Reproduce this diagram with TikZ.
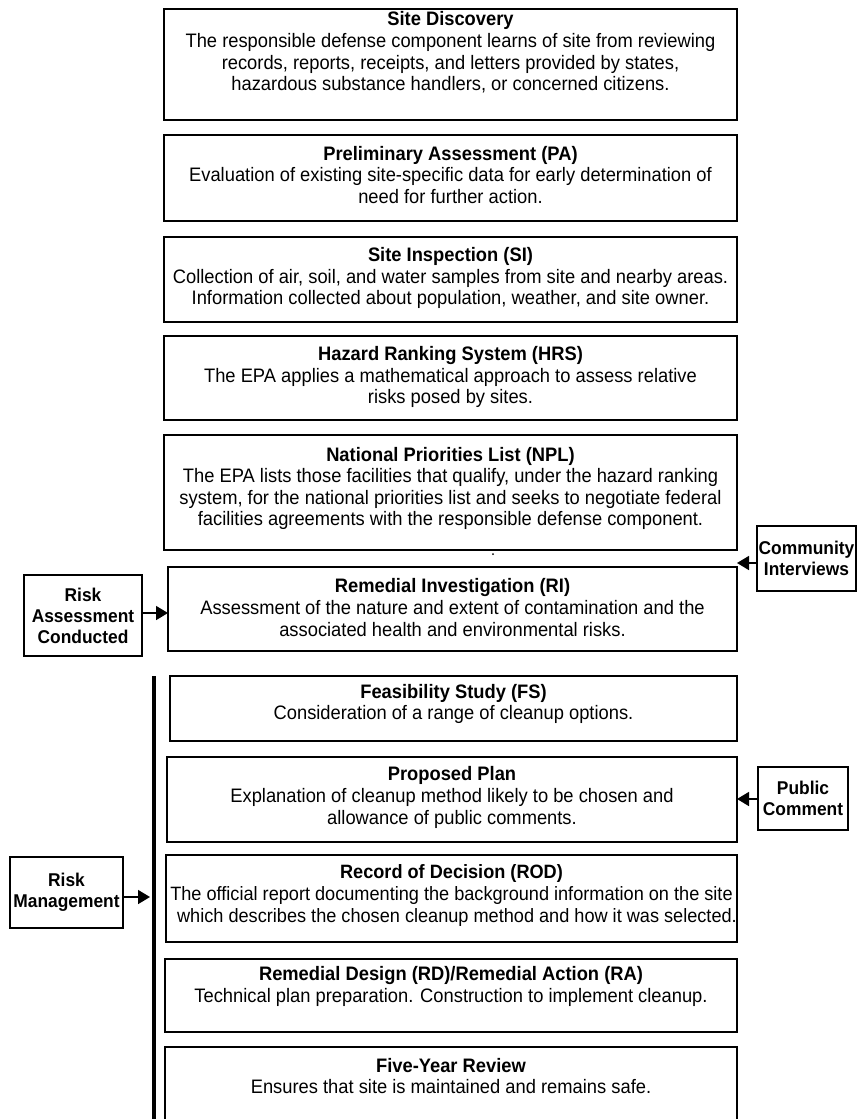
\documentclass[tikz,border=0pt]{standalone}
\usepackage{fontspec}
\setmainfont{Liberation Sans}[FakeStretch=0.94]
\usetikzlibrary{arrows.meta}
\tikzset{
  stepbox/.style={draw, line width=1.6pt, inner sep=0pt, outer sep=0pt},
  steptext/.style={align=center, inner sep=0pt,
    font=\fontsize{19.5}{21.6}\selectfont},
  sidebox/.style={draw, line width=1.6pt, inner sep=0pt, outer sep=0pt,
    align=center, font=\fontsize{18.5}{21}\selectfont\bfseries},
  feed/.style={line width=1.6pt, -{Triangle[length=12pt,width=14pt]}},
}
\begin{document}
\begin{tikzpicture}[x=1pt, y=-1pt]
\clip (0,0) rectangle (859,1119);
\fill[white] (0,0) rectangle (859,1119);

% main chain of stages
\node[stepbox, minimum width=573pt, minimum height=111pt] (sd)   at (450.5,64.5) {};
\node[stepbox, minimum width=573pt, minimum height=86pt]  (pa)   at (450.5,178) {};
\node[stepbox, minimum width=573pt, minimum height=85pt]  (si)   at (450.5,279.5) {};
\node[stepbox, minimum width=573pt, minimum height=84pt]  (hrs)  at (450.5,378) {};
\node[stepbox, minimum width=573pt, minimum height=115pt] (npl)  at (450.5,492.5) {};
\node[stepbox, minimum width=569pt, minimum height=84pt]  (ri)   at (452.5,609) {};
\node[stepbox, minimum width=567pt, minimum height=65pt]  (fs)   at (453.5,708.5) {};
\node[stepbox, minimum width=570pt, minimum height=85pt]  (pp)   at (452,799.5) {};
\node[stepbox, minimum width=571pt, minimum height=87pt]  (rod)  at (451.5,898.5) {};
\node[stepbox, minimum width=572pt, minimum height=73pt]  (rdra) at (451,995.5) {};
\node[stepbox, minimum width=572pt, minimum height=88pt]  (fyr)  at (451,1091) {};

% stage texts
\node[steptext] (sdt) at (450.5,52.5) {\textbf{Site Discovery}\\
  The responsible defense component learns of site from reviewing\\
  records, reports, receipts, and letters provided by states,\\
  hazardous substance handlers, or concerned citizens.};
\node[steptext] (pat) at (450.5,175) {\textbf{Preliminary Assessment (PA)}\\
  Evaluation of existing site-specific data for early determination of\\
  need for further action.};
\node[steptext] (sit) at (450.5,278) {\textbf{Site Inspection (SI)}\\
  Collection of air, soil, and water samples from site and nearby areas.\\
  Information collected about population, weather, and site owner.};
\node[steptext] (hrst) at (450.5,377) {\textbf{Hazard Ranking System (HRS)}\\
  The EPA applies a mathematical approach to assess relative\\
  risks posed by sites.};
\node[steptext] (nplt) at (450.5,488.5) {\textbf{National Priorities List (NPL)}\\
  The EPA lists those facilities that qualify, under the hazard ranking\\
  system, for the national priorities list and seeks to negotiate federal\\
  facilities agreements with the responsible defense component.};
\node[steptext] (rit) at (452.5,607.5) {\textbf{Remedial Investigation (RI)}\\
  Assessment of the nature and extent of contamination and the\\
  associated health and environmental risks.};
\node[steptext] (fst) at (453.5,704) {\textbf{Feasibility Study (FS)}\\
  Consideration of a range of cleanup options.};
\node[steptext] (ppt) at (452,797.5) {\textbf{Proposed Plan}\\
  Explanation of cleanup method likely to be chosen and\\
  allowance of public comments.};
\node[steptext, font=\fontsize{19.3}{21.6}\selectfont] (rodt) at (451.5,895.5)
  {\textbf{Record of Decision (ROD)}\\
  The official report documenting the background information on the site\\
  \hspace*{11pt}which describes the chosen cleanup method and how it was selected.};
\node[steptext] (rdrat) at (451,986.5) {\textbf{Remedial Design (RD)/Remedial Action (RA)}\\
  Technical plan preparation. Construction to implement cleanup.};
\node[steptext] (fyrt) at (451,1076) {\textbf{Five-Year Review}\\
  Ensures that site is maintained and remains safe.};

% small mark under the NPL box
\fill (493,554) circle (1pt);

% side inputs
\node[sidebox, minimum width=118pt, minimum height=81pt] (rac) at (83,615.5)
  {Risk\\Assessment\\Conducted};
\node[sidebox, minimum width=99pt, minimum height=65pt] (ci) at (806.5,558.5)
  {Community\\Interviews};
\node[sidebox, minimum width=90pt, minimum height=63pt] (pc) at (803,798.5)
  {Public\\Comment};
\node[sidebox, minimum width=113pt, minimum height=71pt] (rm) at (66.5,892.5)
  {Risk\\Management};

% bracket for the risk management phase
\coordinate (bt) at (154,676);
\coordinate (bb) at (154,1125);
\draw[line width=4.5pt] (bt) -- (bb);

% feeding arrows
\draw[feed] (rac.east |- 0,613) -- (ri.west |- 0,613);
\draw[feed] (ci.west |- 0,563) -- (ri.east |- 0,563);
\draw[feed] (pc.west |- 0,799) -- (pp.east |- 0,799);
\coordinate (rmtip) at (150,897);
\draw[feed] (rm.east |- 0,897) -- (rmtip);
\end{tikzpicture}
\end{document}
